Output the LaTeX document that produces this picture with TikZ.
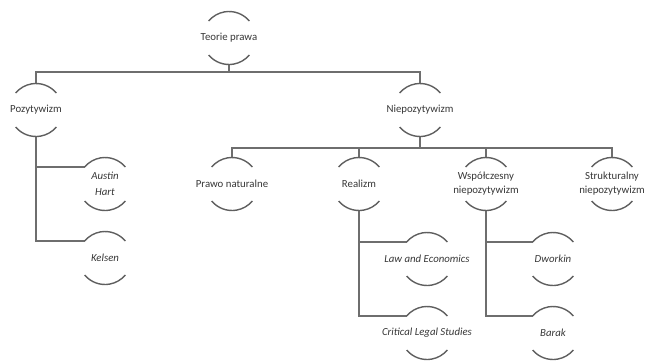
\documentclass[tikz,border=0pt]{standalone}
\usepackage{fontspec}
\setmainfont{Carlito}
\definecolor{lin}{RGB}{110,110,110}
\definecolor{arcc}{RGB}{95,95,95}
\definecolor{txt}{RGB}{55,55,55}
\tikzset{
  hc/.style={circle, minimum size=53pt, inner sep=0pt, outer sep=0pt},
  lbl/.style={inner sep=0pt, text=txt, font=\fontsize{10.8}{14}\selectfont, align=center},
  leaflbl/.style={lbl, font=\fontsize{10.8}{14}\selectfont\itshape},
  conn/.style={draw=lin, line width=1.3pt},
  arcline/.style={draw=arcc, line width=1.4pt}
}
\begin{document}
\begin{tikzpicture}[x=1pt,y=-1pt]
\useasboundingbox (0,0) rectangle (647,360);
\node[hc] (teorie) at (229,38) {};
\node[hc] (poz) at (36,110) {};
\node[hc] (niep) at (420,110) {};
\node[hc] (austin) at (105,184) {};
\node[hc] (kelsen) at (105,258) {};
\node[hc] (prawo) at (232,184) {};
\node[hc] (real) at (359,184) {};
\node[hc] (wsp) at (486,184) {};
\node[hc] (strk) at (612,184) {};
\node[hc] (law) at (427,259) {};
\node[hc] (cls) at (427,333) {};
\node[hc] (dwor) at (553,259) {};
\node[hc] (barak) at (553,333) {};
% labels
\node[lbl] (teorie-t) at (teorie) {Teorie prawa};
\node[lbl] (poz-t) at (poz) {Pozytywizm};
\node[lbl] (niep-t) at (niep) {Niepozytywizm};
\node[leaflbl] (austin-t) at (austin) {Austin\\[2pt]Hart};
\node[leaflbl] (kelsen-t) at (kelsen) {Kelsen};
\node[lbl] (prawo-t) at (prawo) {Prawo naturalne};
\node[lbl] (real-t) at (real) {Realizm};
\node[lbl] (wsp-t) at (wsp) {Współczesny\\niepozytywizm};
\node[lbl] (strk-t) at (strk) {Strukturalny\\niepozytywizm};
\node[leaflbl] (law-t) at (law) {Law and Economics};
\node[leaflbl] (cls-t) at (cls) {Critical Legal Studies};
\node[leaflbl] (dwor-t) at (dwor) {Dworkin};
\node[leaflbl] (barak-t) at (barak) {Barak};
% connectors
\draw[conn] (teorie.south) -- ++(0,7.5) -| (poz.north);
\draw[conn] (teorie.south) -- ++(0,7.5) -| (niep.north);
\draw[conn] (poz.south) |- (austin.140);
\draw[conn] (poz.south) |- (kelsen.140);
\foreach \c in {prawo,real,wsp,strk}
  \draw[conn] (niep.south) -- ++(0,11.5) -| (\c.north);
\draw[conn] (real.south) |- (law.140);
\draw[conn] (real.south) |- (cls.140);
\draw[conn] (wsp.south) |- (dwor.140);
\draw[conn] (wsp.south) |- (barak.140);
% arcs
\foreach \n in {teorie,poz,niep,austin,kelsen,prawo,real,wsp,strk,law,cls,dwor,barak}{
  \draw[arcline] (\n.40) arc[start angle=40, end angle=140, radius=26.5pt];
  \draw[arcline] (\n.220) arc[start angle=220, end angle=320, radius=26.5pt];
}
\end{tikzpicture}
\end{document}
